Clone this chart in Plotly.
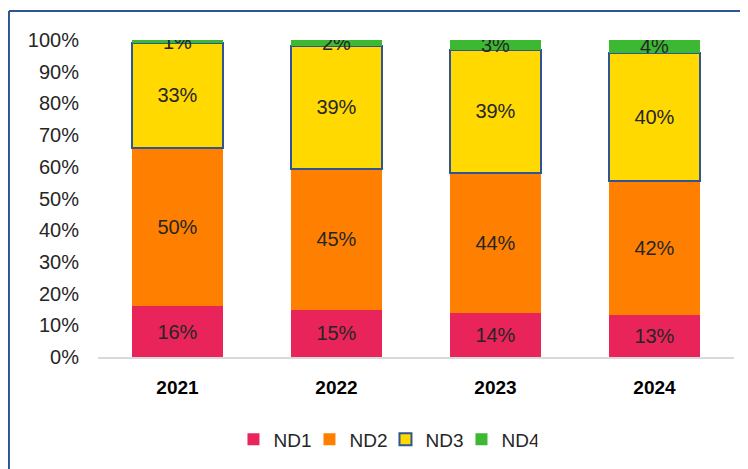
import plotly.graph_objects as go

years = ["2021", "2022", "2023", "2024"]
series_names = ["ND1", "ND2", "ND3", "ND4"]
nd1 = [16, 15, 14, 13]
nd2 = [50, 45, 44, 42]
nd3 = [33, 39, 39, 40]
nd4 = [1, 2, 3, 4]
y_ticks = [0, 10, 20, 30, 40, 50, 60, 70, 80, 90, 100]
y_tick_labels = [f"{v}%" for v in y_ticks]

values = [nd1, nd2, nd3, nd4]
colors = ["#E8245A", "#FF8000", "#FFD900", "#3CB832"]
line_colors = ["#E8245A", "#FF8000", "#2F5597", "#3CB832"]
line_widths = [0, 0, 2, 0]

REG = "Liberation Sans, Arial"

fig = go.Figure()
for name, vals, c, lc, lw in zip(series_names, values, colors, line_colors, line_widths):
    fig.add_trace(go.Bar(
        x=years, y=vals, name=name,
        marker=dict(color=c, line=dict(color=lc, width=lw)),
        text=[f"{v}%" for v in vals], texttemplate="%{text}",
        textposition="inside", insidetextanchor="middle",
        constraintext="none",
        textfont=dict(family=REG, size=20, color="#262626"),
    ))

# The page body adds an 8px offset; the figure is sized/shifted to compensate.
fig.update_layout(
    barmode="stack", barnorm="percent", bargap=0.428,
    width=740, height=461,
    margin=dict(l=90, r=14, t=32, b=112, autoexpand=False),
    paper_bgcolor="white", plot_bgcolor="white",
    font=dict(family=REG, size=20, color="#262626"),
    showlegend=True,
    legend=dict(orientation="h", x=0.452, xanchor="center", y=-0.2, yanchor="top",
                font=dict(size=19, color="#262626", family=REG), traceorder="normal",
                itemwidth=30, tracegroupgap=0,
                entrywidth=31, entrywidthmode="pixels"),
    xaxis=dict(showline=True, linecolor="#D9D9D9", linewidth=1.5, ticks="",
               tickfont=dict(size=19, color="#000000", family=REG),
               tickprefix="<b>", ticksuffix="</b>", ticklabelstandoff=12),
    yaxis=dict(range=[0, 100], tickmode="array", tickvals=y_ticks, ticktext=y_tick_labels,
               showgrid=False, showline=False, zeroline=False, ticks="",
               ticklabelstandoff=18,
               tickfont=dict(size=20, color="#262626", family=REG)),
)

frame_color = "#2F5597"
fig.add_shape(type="line", xref="paper", yref="paper", x0=-0.14, x1=1.03, y0=1.0915, y1=1.0915,
              line=dict(color=frame_color, width=2))
fig.add_shape(type="line", xref="paper", yref="paper", x0=-0.14, x1=-0.14, y0=1.0915, y1=-0.36,
              line=dict(color=frame_color, width=2))

fig.write_html("out.html")
